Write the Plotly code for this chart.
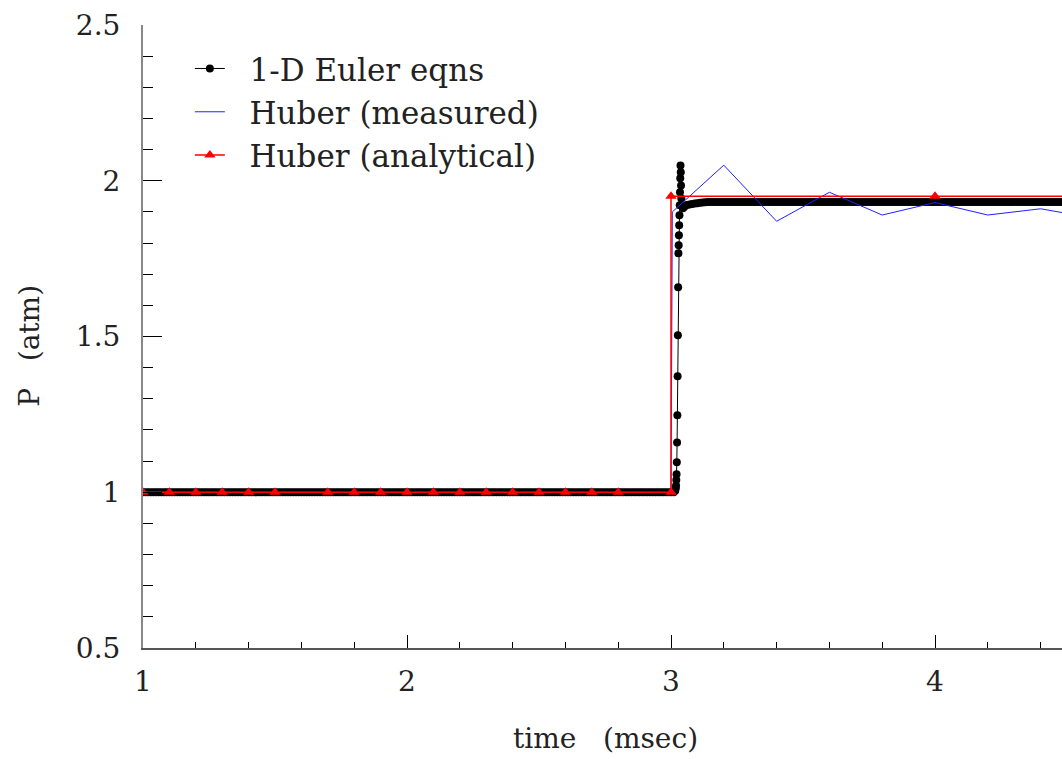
import plotly.graph_objects as go

# ---- Data ----
# 1-D Euler equations (computed), time in msec, pressure in atm
euler_t = [
    1.00, 1.01, 1.02, 1.03, 1.04, 1.05, 1.06, 1.07, 1.08, 1.09,
    1.10, 1.11, 1.12, 1.13, 1.14, 1.15, 1.16, 1.17, 1.18, 1.19,
    1.20, 1.21, 1.22, 1.23, 1.24, 1.25, 1.26, 1.27, 1.28, 1.29,
    1.30, 1.31, 1.32, 1.33, 1.34, 1.35, 1.36, 1.37, 1.38, 1.39,
    1.40, 1.41, 1.42, 1.43, 1.44, 1.45, 1.46, 1.47, 1.48, 1.49,
    1.50, 1.51, 1.52, 1.53, 1.54, 1.55, 1.56, 1.57, 1.58, 1.59,
    1.60, 1.61, 1.62, 1.63, 1.64, 1.65, 1.66, 1.67, 1.68, 1.69,
    1.70, 1.71, 1.72, 1.73, 1.74, 1.75, 1.76, 1.77, 1.78, 1.79,
    1.80, 1.81, 1.82, 1.83, 1.84, 1.85, 1.86, 1.87, 1.88, 1.89,
    1.90, 1.91, 1.92, 1.93, 1.94, 1.95, 1.96, 1.97, 1.98, 1.99,
    2.00, 2.01, 2.02, 2.03, 2.04, 2.05, 2.06, 2.07, 2.08, 2.09,
    2.10, 2.11, 2.12, 2.13, 2.14, 2.15, 2.16, 2.17, 2.18, 2.19,
    2.20, 2.21, 2.22, 2.23, 2.24, 2.25, 2.26, 2.27, 2.28, 2.29,
    2.30, 2.31, 2.32, 2.33, 2.34, 2.35, 2.36, 2.37, 2.38, 2.39,
    2.40, 2.41, 2.42, 2.43, 2.44, 2.45, 2.46, 2.47, 2.48, 2.49,
    2.50, 2.51, 2.52, 2.53, 2.54, 2.55, 2.56, 2.57, 2.58, 2.59,
    2.60, 2.61, 2.62, 2.63, 2.64, 2.65, 2.66, 2.67, 2.68, 2.69,
    2.70, 2.71, 2.72, 2.73, 2.74, 2.75, 2.76, 2.77, 2.78, 2.79,
    2.80, 2.81, 2.82, 2.83, 2.84, 2.85, 2.86, 2.87, 2.88, 2.89,
    2.90, 2.91, 2.92, 2.93, 2.94, 2.95, 2.96, 2.97, 2.98, 2.99,
    3.00, 3.01, 3.016, 3.018, 3.019, 3.020, 3.021, 3.022, 3.023, 3.024,
    3.025, 3.026, 3.027, 3.028, 3.029, 3.030, 3.031, 3.032, 3.033, 3.034,
    3.035, 3.036, 3.037, 3.038, 3.039, 3.041, 3.045, 3.05, 3.06, 3.07,
    3.08, 3.09, 3.10, 3.11, 3.12, 3.13, 3.14, 3.15, 3.16, 3.17,
    3.18, 3.19, 3.20, 3.21, 3.22, 3.23, 3.24, 3.25, 3.26, 3.27,
    3.28, 3.29, 3.30, 3.31, 3.32, 3.33, 3.34, 3.35, 3.36, 3.37,
    3.38, 3.39, 3.40, 3.41, 3.42, 3.43, 3.44, 3.45, 3.46, 3.47,
    3.48, 3.49, 3.50, 3.51, 3.52, 3.53, 3.54, 3.55, 3.56, 3.57,
    3.58, 3.59, 3.60, 3.61, 3.62, 3.63, 3.64, 3.65, 3.66, 3.67,
    3.68, 3.69, 3.70, 3.71, 3.72, 3.73, 3.74, 3.75, 3.76, 3.77,
    3.78, 3.79, 3.80, 3.81, 3.82, 3.83, 3.84, 3.85, 3.86, 3.87,
    3.88, 3.89, 3.90, 3.91, 3.92, 3.93, 3.94, 3.95, 3.96, 3.97,
    3.98, 3.99, 4.00, 4.01, 4.02, 4.03, 4.04, 4.05, 4.06, 4.07,
    4.08, 4.09, 4.10, 4.11, 4.12, 4.13, 4.14, 4.15, 4.16, 4.17,
    4.18, 4.19, 4.20, 4.21, 4.22, 4.23, 4.24, 4.25, 4.26, 4.27,
    4.28, 4.29, 4.30, 4.31, 4.32, 4.33, 4.34, 4.35, 4.36, 4.37,
    4.38, 4.39, 4.40, 4.41, 4.42, 4.43, 4.44, 4.45, 4.46, 4.47,
    4.48, 4.49, 4.50,
]
euler_p = [
    1.0, 1.0, 1.0, 1.0, 1.0, 1.0, 1.0, 1.0, 1.0, 1.0,
    1.0, 1.0, 1.0, 1.0, 1.0, 1.0, 1.0, 1.0, 1.0, 1.0,
    1.0, 1.0, 1.0, 1.0, 1.0, 1.0, 1.0, 1.0, 1.0, 1.0,
    1.0, 1.0, 1.0, 1.0, 1.0, 1.0, 1.0, 1.0, 1.0, 1.0,
    1.0, 1.0, 1.0, 1.0, 1.0, 1.0, 1.0, 1.0, 1.0, 1.0,
    1.0, 1.0, 1.0, 1.0, 1.0, 1.0, 1.0, 1.0, 1.0, 1.0,
    1.0, 1.0, 1.0, 1.0, 1.0, 1.0, 1.0, 1.0, 1.0, 1.0,
    1.0, 1.0, 1.0, 1.0, 1.0, 1.0, 1.0, 1.0, 1.0, 1.0,
    1.0, 1.0, 1.0, 1.0, 1.0, 1.0, 1.0, 1.0, 1.0, 1.0,
    1.0, 1.0, 1.0, 1.0, 1.0, 1.0, 1.0, 1.0, 1.0, 1.0,
    1.0, 1.0, 1.0, 1.0, 1.0, 1.0, 1.0, 1.0, 1.0, 1.0,
    1.0, 1.0, 1.0, 1.0, 1.0, 1.0, 1.0, 1.0, 1.0, 1.0,
    1.0, 1.0, 1.0, 1.0, 1.0, 1.0, 1.0, 1.0, 1.0, 1.0,
    1.0, 1.0, 1.0, 1.0, 1.0, 1.0, 1.0, 1.0, 1.0, 1.0,
    1.0, 1.0, 1.0, 1.0, 1.0, 1.0, 1.0, 1.0, 1.0, 1.0,
    1.0, 1.0, 1.0, 1.0, 1.0, 1.0, 1.0, 1.0, 1.0, 1.0,
    1.0, 1.0, 1.0, 1.0, 1.0, 1.0, 1.0, 1.0, 1.0, 1.0,
    1.0, 1.0, 1.0, 1.0, 1.0, 1.0, 1.0, 1.0, 1.0, 1.0,
    1.0, 1.0, 1.0, 1.0, 1.0, 1.0, 1.0, 1.0, 1.0, 1.0,
    1.0, 1.0, 1.0, 1.0, 1.0, 1.0, 1.0, 1.0, 1.0, 1.0,
    1.0, 1.0, 1.005, 1.013, 1.022, 1.039, 1.058, 1.096, 1.160, 1.247,
    1.372, 1.504, 1.658, 1.767, 1.793, 1.825, 1.857, 1.889, 1.921, 1.963,
    2.008, 2.049, 2.027, 1.985, 1.943, 1.920, 1.912, 1.916, 1.922, 1.924,
    1.925, 1.927, 1.928, 1.929, 1.930, 1.931, 1.932, 1.932, 1.932, 1.932,
    1.932, 1.932, 1.932, 1.932, 1.932, 1.932, 1.932, 1.932, 1.932, 1.932,
    1.932, 1.932, 1.932, 1.932, 1.932, 1.932, 1.932, 1.932, 1.932, 1.932,
    1.932, 1.932, 1.932, 1.932, 1.932, 1.932, 1.932, 1.932, 1.932, 1.932,
    1.932, 1.932, 1.932, 1.932, 1.932, 1.932, 1.932, 1.932, 1.932, 1.932,
    1.932, 1.932, 1.932, 1.932, 1.932, 1.932, 1.932, 1.932, 1.932, 1.932,
    1.932, 1.932, 1.932, 1.932, 1.932, 1.932, 1.932, 1.932, 1.932, 1.932,
    1.932, 1.932, 1.932, 1.932, 1.932, 1.932, 1.932, 1.932, 1.932, 1.932,
    1.932, 1.932, 1.932, 1.932, 1.932, 1.932, 1.932, 1.932, 1.932, 1.932,
    1.932, 1.932, 1.932, 1.932, 1.932, 1.932, 1.932, 1.932, 1.932, 1.932,
    1.932, 1.932, 1.932, 1.932, 1.932, 1.932, 1.932, 1.932, 1.932, 1.932,
    1.932, 1.932, 1.932, 1.932, 1.932, 1.932, 1.932, 1.932, 1.932, 1.932,
    1.932, 1.932, 1.932, 1.932, 1.932, 1.932, 1.932, 1.932, 1.932, 1.932,
    1.932, 1.932, 1.932, 1.932, 1.932, 1.932, 1.932, 1.932, 1.932, 1.932,
    1.932, 1.932, 1.932,
]

# Huber (measured)
measured_t = [1.0, 2.0, 3.0, 3.005, 3.2, 3.4, 3.6, 3.8, 4.0, 4.2, 4.4, 4.6]
measured_p = [1.0, 1.0, 1.0, 1.90, 2.05, 1.87, 1.963, 1.89, 1.93, 1.89, 1.91, 1.88]

# Huber (analytical)
analytical_t = [1.0, 1.1, 1.2, 1.3, 1.4, 1.5, 1.7, 1.8, 1.9, 2.0, 2.1, 2.2,
                2.3, 2.4, 2.5, 2.6, 2.7, 2.8, 3.0, 3.0, 4.0, 5.0]
analytical_p = [1.0, 1.0, 1.0, 1.0, 1.0, 1.0, 1.0, 1.0, 1.0, 1.0, 1.0, 1.0,
                1.0, 1.0, 1.0, 1.0, 1.0, 1.0, 1.0, 1.95, 1.95, 1.95]

x_ticks = [1, 2, 3, 4]
x_tick_text = ["1", "2", "3", "4"]
y_ticks = [0.5, 1.0, 1.5, 2.0, 2.5]
y_tick_text = ["0.5", "1", "1.5", "2", "2.5"]

NB = "\u00a0"
serif = "DejaVu Serif"
TXT = "#222222"

fig = go.Figure()
fig.add_trace(go.Scatter(
    x=euler_t, y=euler_p, mode="lines+markers",
    name=NB * 2 + "1-D Euler eqns",
    line=dict(color="black", width=1),
    marker=dict(color="black", size=8, symbol="circle"),
))
fig.add_trace(go.Scatter(
    x=measured_t, y=measured_p, mode="lines",
    name=NB * 2 + "Huber (measured)",
    line=dict(color="#2020ff", width=1),
))
fig.add_trace(go.Scatter(
    x=analytical_t, y=analytical_p, mode="lines+markers",
    name=NB * 2 + "Huber (analytical)",
    line=dict(color="#ff0000", width=1.5),
    marker=dict(color="#ff0000", size=10, symbol="triangle-up"),
))

fig.update_layout(
    width=1062, height=759,
    margin=dict(l=143, r=0, t=25, b=111, pad=0),
    paper_bgcolor="white", plot_bgcolor="white",
    font=dict(family=serif, size=28, color=TXT),
    showlegend=True,
    legend=dict(
        x=0.051, y=0.973, xanchor="left", yanchor="top",
        bgcolor="rgba(0,0,0,0)", borderwidth=0,
        font=dict(family=serif, size=31, color=TXT),
        itemwidth=30, tracegroupgap=0,
    ),
    xaxis=dict(
        range=[1, 4.481], showgrid=False, zeroline=False,
        tickvals=x_ticks, ticktext=x_tick_text,
        ticks="inside", ticklen=13, tickwidth=1, tickcolor="black",
        minor=dict(dtick=0.2, tick0=1, ticks="inside", ticklen=6,
                   tickwidth=1, tickcolor="black", showgrid=False),
        showline=True, linecolor="#555555", linewidth=1.5,
        tickfont=dict(family=serif, size=28, color=TXT),
        ticklabelstandoff=8,
    ),
    yaxis=dict(
        range=[0.5, 2.5], showgrid=False, zeroline=False,
        tickvals=y_ticks, ticktext=y_tick_text,
        ticks="inside", ticklen=19, tickwidth=1, tickcolor="black",
        minor=dict(dtick=0.1, tick0=0.5, ticks="inside", ticklen=10,
                   tickwidth=1, tickcolor="black", showgrid=False),
        showline=True, linecolor="#888888", linewidth=2,
        tickfont=dict(family=serif, size=28, color=TXT),
        ticklabelstandoff=15,
    ),
    annotations=[
        dict(text="time" + NB * 3 + "(msec)", xref="paper", yref="paper",
             x=0.503, y=-0.1445, xanchor="center", yanchor="middle",
             showarrow=False, font=dict(family=serif, size=28, color=TXT)),
        dict(text="P" + NB * 3 + "(atm)", xref="paper", yref="paper",
             x=-0.123, y=0.485, xanchor="center", yanchor="middle",
             textangle=-90, showarrow=False,
             font=dict(family=serif, size=28, color=TXT)),
    ],
)

fig.write_html("out.html")
